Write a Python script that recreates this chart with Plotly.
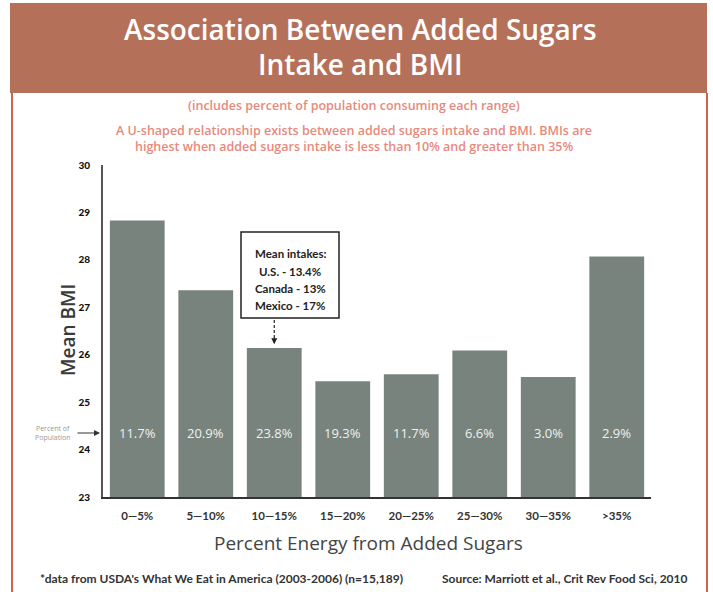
import plotly.graph_objects as go

# --- data -------------------------------------------------------------
categories = ["0—5%", "5—10%", "10—15%", "15—20%", "20—25%", "25—30%", "30—35%", ">35%"]
mean_bmi = [28.83, 27.36, 26.14, 25.44, 25.59, 26.09, 25.53, 28.07]
population_pct = ["11.7%", "20.9%", "23.8%", "19.3%", "11.7%", "6.6%", "3.0%", "2.9%"]
y_ticks = [23, 24, 25, 26, 27, 28, 29, 30]

# --- page geometry (pixels) -------------------------------------------
W, H = 713, 592
L, R, T, B = 103, 651, 165, 497      # plot area edges
Y0, Y1 = 23, 30


def px_x(p):
    return (p - L) / (R - L)


def px_y(p):
    return (B - p) / (B - T)


def px_to_data_y(p):
    return Y0 + (B - p) / (B - T) * (Y1 - Y0)


BAR = "#78837e"
BANNER = "#b5705a"
RED = "#cc6552"
SUB = "#e8897c"
LABEL_Y = px_to_data_y(433)

fig = go.Figure()
fig.add_trace(go.Bar(
    x=categories, y=[v - Y0 for v in mean_bmi], base=Y0,
    marker=dict(color=BAR, line=dict(width=0)),
    width=0.8, hoverinfo="skip", showlegend=False,
))

ann = []
shapes = []


def text_at(x, y, txt, font, xanchor="center", **kw):
    ann.append(dict(x=px_x(x), y=px_y(y), xref="paper", yref="paper", text=txt,
                    showarrow=False, xanchor=xanchor, yanchor="middle", font=font, **kw))


# percent-of-population labels inside bars
for c, p in zip(categories, population_pct):
    ann.append(dict(x=c, y=LABEL_Y, xref="x", yref="y", text=p, showarrow=False,
                    xanchor="center", yanchor="middle",
                    font=dict(family="Open Sans", size=13, color="#eef1ef")))

# title banner
shapes.append(dict(type="rect", xref="paper", yref="paper",
                   x0=px_x(10), x1=px_x(707), y0=px_y(93), y1=px_y(3),
                   fillcolor=BANNER, line=dict(width=0), layer="below"))
for txt, yy in [("Association Between Added Sugars", 29), ("Intake and BMI", 64)]:
    text_at(360, yy, txt, dict(family="Open Sans", size=28, color="white", weight=600))

# page border lines
for xx in (12, 707):
    shapes.append(dict(type="line", xref="paper", yref="paper",
                       x0=px_x(xx), x1=px_x(xx), y0=px_y(93), y1=px_y(592),
                       line=dict(color=RED, width=2)))

# subtitle lines
subs = [
    ("(includes percent of population consuming each range)", 105),
    ("A U-shaped relationship exists between added sugars intake and BMI. BMIs are", 130),
    ("highest when added sugars intake is less than 10% and greater than 35%", 146),
]
for txt, yy in subs:
    text_at(354, yy, txt, dict(family="Open Sans", size=12.5, color=SUB, weight=600))

# mean intake call-out box
shapes.append(dict(type="rect", xref="paper", yref="paper",
                   x0=px_x(241), x1=px_x(339), y0=px_y(318), y1=px_y(232),
                   line=dict(color="#222", width=1.5), fillcolor="white"))
for txt, yy in [("Mean intakes:", 253), ("U.S. - 13.4%", 271), ("Canada - 13%", 288), ("Mexico - 17%", 305)]:
    text_at(290, yy, txt, dict(family="Lato", size=11.5, color="#222", weight=700))
shapes.append(dict(type="line", xref="x", yref="paper",
                   x0=categories[2], x1=categories[2], y0=px_y(320), y1=px_y(338),
                   line=dict(color="#222", width=1.2, dash="3px,2px")))
ann.append(dict(x=categories[2], y=mean_bmi[2] + 0.08, xref="x", yref="y", text="",
                showarrow=True, arrowhead=2, arrowsize=1, arrowwidth=1.2,
                arrowcolor="#222", ax=0, ay=-8))

# percent of population pointer
ann.append(dict(x=px_x(52), y=LABEL_Y, xref="paper", yref="y",
                text="Percent of<br>Population", showarrow=False,
                xanchor="center", yanchor="middle",
                font=dict(family="Open Sans", size=7, color="#999")))
ann.append(dict(x=px_x(100), y=LABEL_Y, xref="paper", yref="y", text="",
                showarrow=True, arrowhead=2, arrowsize=1, arrowwidth=1.2,
                arrowcolor="#333", ax=-24, ay=0))

# axis titles
text_at(368, 543, "Percent Energy from Added Sugars",
        dict(family="Open Sans", size=19, color="#444"))
text_at(68, 330, "Mean BMI", dict(family="Open Sans", size=19, color="#3a3a3a", weight=600),
        textangle=-90)

# footnotes
text_at(38, 578, "*data from USDA's What We Eat in America (2003-2006) (n=15,189)",
        dict(family="Lato", size=12, color="#333", weight=700), xanchor="left")
text_at(440, 578, "Source: Marriott et al., Crit Rev Food Sci, 2010",
        dict(family="Lato", size=12, color="#333", weight=700), xanchor="left")

fig.update_layout(
    width=W, height=H,
    margin=dict(l=L, r=W - R, t=T, b=H - B, pad=0),
    paper_bgcolor="white", plot_bgcolor="white",
    bargap=0.2,
    annotations=ann, shapes=shapes,
    xaxis=dict(range=[-0.5, 7.5], showgrid=False, zeroline=False,
               showline=True, linecolor="#333", linewidth=1.5,
               ticks="", tickfont=dict(family="Lato", size=11.5, color="#333", weight=700),
               ticklabelstandoff=7),
    yaxis=dict(range=[Y0, Y1], tickvals=y_ticks, showgrid=False, zeroline=False,
               showline=True, linecolor="#555", linewidth=2,
               ticks="", tickfont=dict(family="Lato", size=10, color="#111", weight=900),
               ticklabelstandoff=9),
)

fig.write_html("out.html")
